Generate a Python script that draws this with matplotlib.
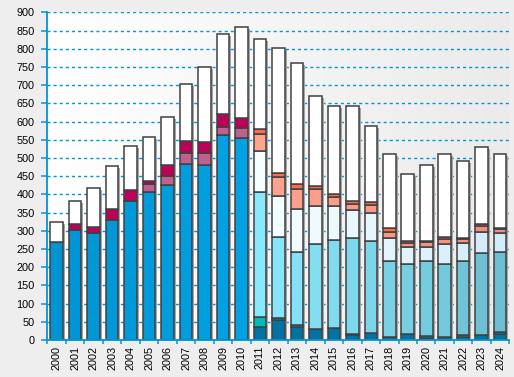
import numpy as np
import matplotlib
matplotlib.use('Agg')
from matplotlib import pyplot as plt
from matplotlib import transforms
from matplotlib.colors import to_rgb

plt.rcParams['font.family'] = ['Liberation Sans', 'DejaVu Sans']

years = [str(y) for y in range(2000, 2025)]

# stacked segments, bottom to top
blue = [268, 303, 295, 330, 382, 408, 427, 485, 482, 563, 556] + [0] * 14
mauve = [0, 0, 0, 0, 0, 22, 24, 30, 33, 22, 27] + [0] * 14
crimson = [0, 15, 15, 29, 31, 8, 31, 33, 30, 37, 28] + [0] * 14
dark_blue = [0] * 11 + [35, 56, 37, 29, 32, 14, 20, 8, 16, 7, 8, 9, 14, 16]
teal = [0] * 11 + [28, 4, 4, 0, 0, 4, 0, 0, 0, 4, 0, 5, 0, 5]
light_cyan = [0] * 11 + [345, 222, 202, 234, 244, 261, 252, 208, 192, 205, 202, 202, 224, 222]
pale_cyan = [0] * 11 + [110, 115, 117, 105, 91, 77, 78, 63, 49, 40, 54, 51, 60, 52]
salmon = [0] * 11 + [49, 52, 54, 46, 26, 19, 20, 19, 9, 13, 14, 10, 15, 11]
tomato = [0] * 11 + [14, 11, 16, 10, 7, 6, 8, 9, 5, 2, 4, 2, 5, 3]
totals = [323, 381, 419, 479, 534, 559, 614, 704, 751, 842, 861,
          828, 803, 762, 671, 644, 644, 589, 510, 457, 482, 510, 493, 529, 510]


def ramp(c0, c1, n):
    a, b = np.array(to_rgb(c0)), np.array(to_rgb(c1))
    return [tuple(a + (b - a) * t) for t in np.linspace(0, 1, n)]


n = len(years)
x = np.arange(n)
rest = [t - sum(s) for t, s in zip(totals, zip(blue, mauve, crimson, dark_blue, teal,
                                              light_cyan, pale_cyan, salmon, tomato))]

series = [
    (blue, ramp('#0094d2', '#00b6fc', n)),
    (mauve, ['#c0608e'] * n),
    (crimson, ['#be0058'] * n),
    (dark_blue, ['#0072a4'] * n),
    (teal, ['#00bcb4'] * n),
    (light_cyan, [None] * 11 + ramp('#8ae8fc', '#6cbed2', 14)),
    (pale_cyan, [None] * 11 + ramp('#f6ffff', '#d2ecfa', 14)),
    (salmon, [None] * 11 + ramp('#ffa48e', '#f28c7c', 14)),
    (tomato, ['#ff6a4c'] * n),
    (rest, ['#ffffff'] * n),
]

fig = plt.figure(figsize=(5.14, 3.77), dpi=100, facecolor='#eeeeee')
ax = fig.add_axes([0.0924, 0.098, 0.8986, 0.869])

# background gradient
grad = np.linspace(0, 1, 256).reshape(1, -1)
bg = np.array(ramp('#ffffff', '#ebebeb', 256)).reshape(1, 256, 3)
ax.imshow(bg, extent=[0, 1, 0, 1], transform=ax.transAxes, aspect='auto', zorder=0)

width = 0.68
shadow = ax.transData + transforms.ScaledTranslation(2 / 100, -2 / 100, fig.dpi_scale_trans)
ax.bar(x, totals, width, color='#a6a6a6', lw=0, transform=shadow, zorder=2)

bottom = np.zeros(n)
for vals, cols in series:
    vals = np.array(vals, dtype=float)
    cols = [c if c is not None else 'w' for c in cols]
    mask = vals > 0
    ax.bar(x[mask], vals[mask], width, bottom=bottom[mask],
           color=[c for c, m in zip(cols, mask) if m],
           edgecolor='#404040', lw=1.1, zorder=3)
    bottom += vals

ax.set_xlim(-0.5, n - 0.5)
ax.set_ylim(0, 900)
ax.set_yticks(np.arange(0, 901, 50))
ax.yaxis.grid(True, color='#0094d8', lw=1.0, linestyle=(0, (2.2, 2.2)))
ax.set_axisbelow(True)

ax.set_xticks(x)
ax.set_xticklabels(years, rotation=90, fontsize=7.8)
ax.set_xticks(np.arange(-0.5, n, 1), minor=True)
ax.tick_params(axis='x', which='major', length=0, pad=4)
ax.tick_params(axis='x', which='minor', length=3, width=1.1, color='#0094d8')
ax.tick_params(axis='y', length=4.3, width=1.1, color='#0094d8', labelsize=7.8, pad=5)

for s in ['top', 'right']:
    ax.spines[s].set_visible(False)
for s in ['left', 'bottom']:
    ax.spines[s].set_color('#0094d8')
    ax.spines[s].set_linewidth(1.3)
    ax.spines[s].set_zorder(5)

fig.savefig('out.png', dpi=100, facecolor=fig.get_facecolor())
